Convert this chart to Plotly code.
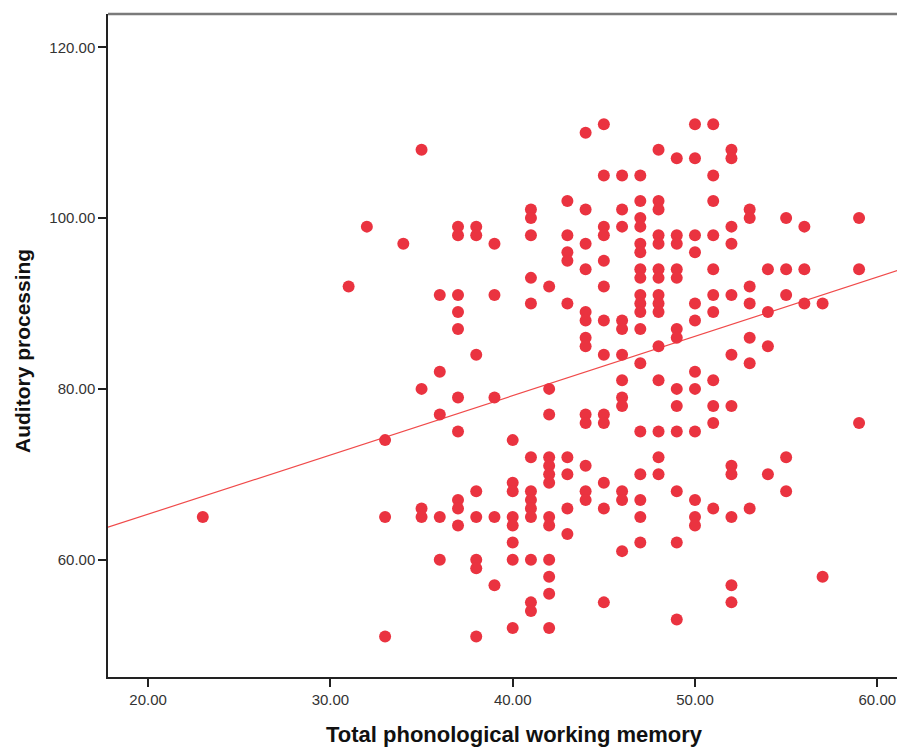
import numpy as np
import plotly.graph_objects as go

# Total phonological working memory score -> list of auditory processing scores
wm_scores = [23, 31, 32, 33, 34, 35, 36, 37, 38, 39, 40, 41, 42, 43, 44, 45, 46, 47, 48, 49, 50, 51, 52, 53, 54, 55, 56, 57, 59]
ap_by_wm = [
    [65],
    [92],
    [99],
    [74, 65, 51],
    [97],
    [108, 80, 66, 65],
    [91, 82, 77, 65, 60],
    [99, 98, 91, 89, 87, 79, 75, 67, 66, 64],
    [99, 98, 84, 68, 65, 60, 59, 51],
    [97, 91, 79, 65, 57],
    [74, 69, 68, 65, 64, 62, 60, 52],
    [101, 100, 98, 93, 90, 72, 68, 67, 66, 65, 60, 55, 54],
    [92, 80, 77, 72, 71, 70, 69, 65, 64, 60, 58, 56, 52],
    [102, 98, 96, 95, 90, 72, 70, 66, 63],
    [110, 101, 97, 94, 89, 88, 86, 85, 77, 76, 71, 68, 67],
    [111, 105, 99, 98, 95, 92, 88, 84, 77, 76, 69, 66, 55],
    [105, 101, 99, 88, 87, 84, 81, 79, 78, 68, 67, 61],
    [105, 102, 100, 99, 97, 96, 94, 93, 91, 90, 89, 87, 83, 75, 70, 67, 65, 62],
    [108, 102, 101, 98, 97, 94, 93, 91, 90, 89, 85, 81, 75, 72, 70],
    [107, 98, 97, 94, 93, 87, 86, 80, 78, 75, 68, 62, 53],
    [111, 107, 98, 96, 90, 88, 82, 80, 75, 67, 65, 64],
    [111, 105, 102, 98, 94, 91, 89, 81, 78, 76, 66],
    [108, 107, 99, 97, 91, 84, 78, 71, 70, 65, 57, 55],
    [101, 100, 92, 90, 86, 83, 66],
    [94, 89, 85, 70],
    [100, 94, 91, 72, 68],
    [99, 94, 90],
    [90, 58],
    [100, 94, 76],
]

# Fit line (linear regression) end points
fit_x = [17.8, 61.52]
fit_y = [63.8, 94.14]

x_tick_vals = [20, 30, 40, 50, 60]
x_tick_text = ["20.00", "30.00", "40.00", "50.00", "60.00"]
y_tick_vals = [60, 80, 100, 120]
y_tick_text = ["60.00", "80.00", "100.00", "120.00"]

x_title = "Total phonological working memory"
y_title = "Auditory processing"

xs = []
ys = []
for wm, aps in zip(wm_scores, ap_by_wm):
    for ap in aps:
        xs.append(wm)
        ys.append(ap)

x_range = [17.8, 61.52]
y_range = [46.26, 123.9]

fig = go.Figure()
fig.add_trace(go.Scatter(
    x=fit_x, y=fit_y, mode="lines",
    line=dict(color="#F04A4A", width=1.2),
    hoverinfo="skip", showlegend=False,
))
fig.add_trace(go.Scatter(
    x=xs, y=ys, mode="markers",
    marker=dict(color="#EA3340", size=12, line=dict(width=0)),
    showlegend=False,
))

tick_font = dict(family="Liberation Sans, Arial, sans-serif", size=15, color="#333333")
title_font = dict(family="Liberation Sans Narrow, Arial Narrow, sans-serif", size=22, color="#111111", weight="bold")

# page has an 8px body margin, so the figure is sized/offset to fit the 905x747 window
PL, PT, PW, PH = 108, 14, 797, 663

fig.update_layout(
    width=897, height=739,
    margin=dict(l=100, r=0, t=6, b=70, pad=0),
    paper_bgcolor="white", plot_bgcolor="white",
    xaxis=dict(
        range=x_range, tickvals=x_tick_vals, ticktext=x_tick_text,
        showgrid=False, zeroline=False,
        showline=True, linecolor="#222222", linewidth=1.5,
        ticks="outside", ticklen=8, tickwidth=1.5, tickcolor="#222222",
        tickfont=tick_font, mirror=False,
    ),
    yaxis=dict(
        range=y_range, tickvals=y_tick_vals, ticktext=y_tick_text,
        showgrid=False, zeroline=False,
        showline=True, linecolor="#222222", linewidth=1.5,
        ticks="outside", ticklen=8, tickwidth=1.5, tickcolor="#222222",
        tickfont=tick_font, mirror=False,
    ),
    shapes=[dict(type="line", xref="paper", yref="paper", x0=0, x1=1, y0=1, y1=1,
                 line=dict(color="#7a7a7a", width=2.5))],
    annotations=[
        dict(text=x_title, xref="paper", yref="paper", x=(515 - PL) / PW, y=-(734 - (PT + PH)) / PH,
             xanchor="center", yanchor="middle", showarrow=False, font=title_font),
        dict(text=y_title, xref="paper", yref="paper", x=-(PL - 22) / PW, y=(PT + PH - 351) / PH,
             xanchor="center", yanchor="middle", showarrow=False, textangle=-90,
             font=dict(title_font, size=21)),
    ],
)

fig.write_html("out.html")
